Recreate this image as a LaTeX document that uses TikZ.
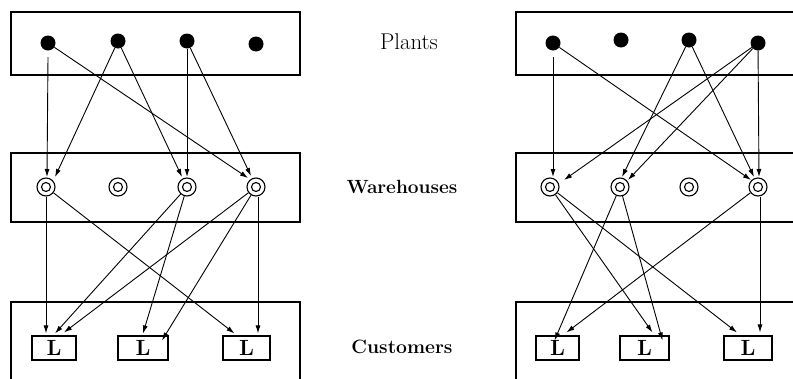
\documentclass[tikz,border=0pt]{standalone}
\usepackage{fontspec}
\usetikzlibrary{calc,arrows.meta}
\begin{document}
\begin{tikzpicture}[x=1pt,y=-1pt,
  panel/.style={draw,line width=1.1pt},
  plant/.style={circle,fill=black,inner sep=0pt,minimum size=15pt},
  whouse/.style={circle,draw,line width=1.1pt,inner sep=0pt,minimum size=18pt,
    path picture={\draw[line width=1.1pt] (path picture bounding box.center) circle (4.5pt);}},
  cust/.style={draw,line width=1.1pt,inner sep=0pt,minimum height=24pt,font=\fontsize{22}{24}\selectfont\bfseries},
  arr/.style={line width=0.9pt,-{Latex[length=8pt,width=5pt]}},
  lbl/.style={font=\fontsize{19.3}{21}\selectfont\bfseries}
]
\useasboundingbox (0,0) rectangle (793,378);
\clip (0,0) rectangle (793,378);
\fill[white] (0,0) rectangle (793,378);

% panels
\draw[panel] (11,12) rectangle (300,75);
\draw[panel] (11,153) rectangle (300,222);
\draw[panel] (11,395) -- (11,302) -- (300,302) -- (300,395);
\draw[panel] (830,12) -- (516,12) -- (516,75) -- (830,75);
\draw[panel] (830,153) -- (516,153) -- (516,222) -- (830,222);
\draw[panel] (830,302) -- (516,302) -- (516,395);

% labels
\node[font=\fontsize{22.8}{24}\selectfont] (tp) at (409,42) {Plants};
\node[font=\fontsize{19.1}{21}\selectfont\bfseries] (tw) at (402,187) {Warehouses};
\node[lbl] (tc) at (402,347) {Customers};

% ---------- left ----------
\node[plant] (lp1) at (48,43) {};
\node[plant] (lp2) at (118,41) {};
\node[plant] (lp3) at (187,41) {};
\node[plant] (lp4) at (256,44) {};
\node[whouse] (lw1) at (46,187) {};
\node[whouse] (lw2) at (118,187) {};
\node[whouse] (lw3) at (187,187) {};
\node[whouse] (lw4) at (256,187) {};
\node[cust,minimum width=44pt] (lc1) at (54,348) {L};
\node[cust,minimum width=50pt] (lc2) at (143,348) {L};
\node[cust,minimum width=47pt] (lc3) at (246.5,348) {L};

\draw[arr] ($(lp1)+(0,14)$) -- ($(lw1)+(1,-10)$);
\draw[arr] (lp1) -- ($(lw4)+(-8,-9)$);
\draw[arr] (lp2) -- ($(lw1)+(9,-10)$);
\draw[arr] (lp2) -- ($(lw3)+(-5,-10)$);
\draw[arr] (lp3) -- ($(lw3)+(0,-10)$);
\draw[arr] (lp3) -- ($(lw4)+(-5,-11)$);

\draw[arr] (lw1) -- ($(lc1.north)+(-8,-2)$);
\draw[arr] (lw1) -- ($(lc3.north)+(-12,-2)$);
\draw[arr] (lw3) -- ($(lc1.north)+(1,-2)$);
\draw[arr] (lw3) -- ($(lc2.north)+(0,-2)$);
\draw[arr] (lw4) -- ($(lc1.north)+(10,-3)$);
\draw[arr] (lw4) -- ($(lc2.north)+(19,5)$);
\draw[arr] ($(lw4)+(2,10)$) -- ($(lc3.north)+(11.5,-2)$);

% ---------- right ----------
\node[plant] (rp1) at (553,43) {};
\node[plant] (rp2) at (621,40) {};
\node[plant] (rp3) at (689,40) {};
\node[plant] (rp4) at (758,43) {};
\node[whouse] (rw1) at (550,187) {};
\node[whouse] (rw2) at (620,187) {};
\node[whouse] (rw3) at (689,187) {};
\node[whouse] (rw4) at (758,187) {};
\node[cust,minimum width=43pt] (rc1) at (557.5,348) {L};
\node[cust,minimum width=49pt] (rc2) at (644.5,348) {L};
\node[cust,minimum width=48pt] (rc3) at (748,348) {L};

\draw[arr] ($(rp1)+(0,14)$) -- ($(rw1)+(3,-10)$);
\draw[arr] (rp1) -- ($(rw4)+(-7,-7)$);
\draw[arr] (rp3) -- ($(rw2)+(2,-10)$);
\draw[arr] (rp3) -- ($(rw4)+(-4,-10)$);
\draw[arr] (rp4) -- ($(rw1)+(14,-7)$);
\draw[arr] (rp4) -- ($(rw2)+(8,-7)$);
\draw[arr] (rp4) -- ($(rw4)+(1,-10)$);

\draw[arr] (rw1) -- ($(rc2.north)+(8,-3)$);
\draw[arr] (rw1) -- ($(rc3.north)+(-11,-3)$);
\draw[arr] (rw2) -- ($(rc1.north)+(-3,5)$);
\draw[arr] (rw2) -- ($(rc2.north)+(18,5)$);
\draw[arr] (rw4) -- ($(rc1.north)+(9,-3)$);
\draw[arr] ($(rw4)+(2,10)$) -- ($(rc3.north)+(12,-3)$);
\end{tikzpicture}
\end{document}
